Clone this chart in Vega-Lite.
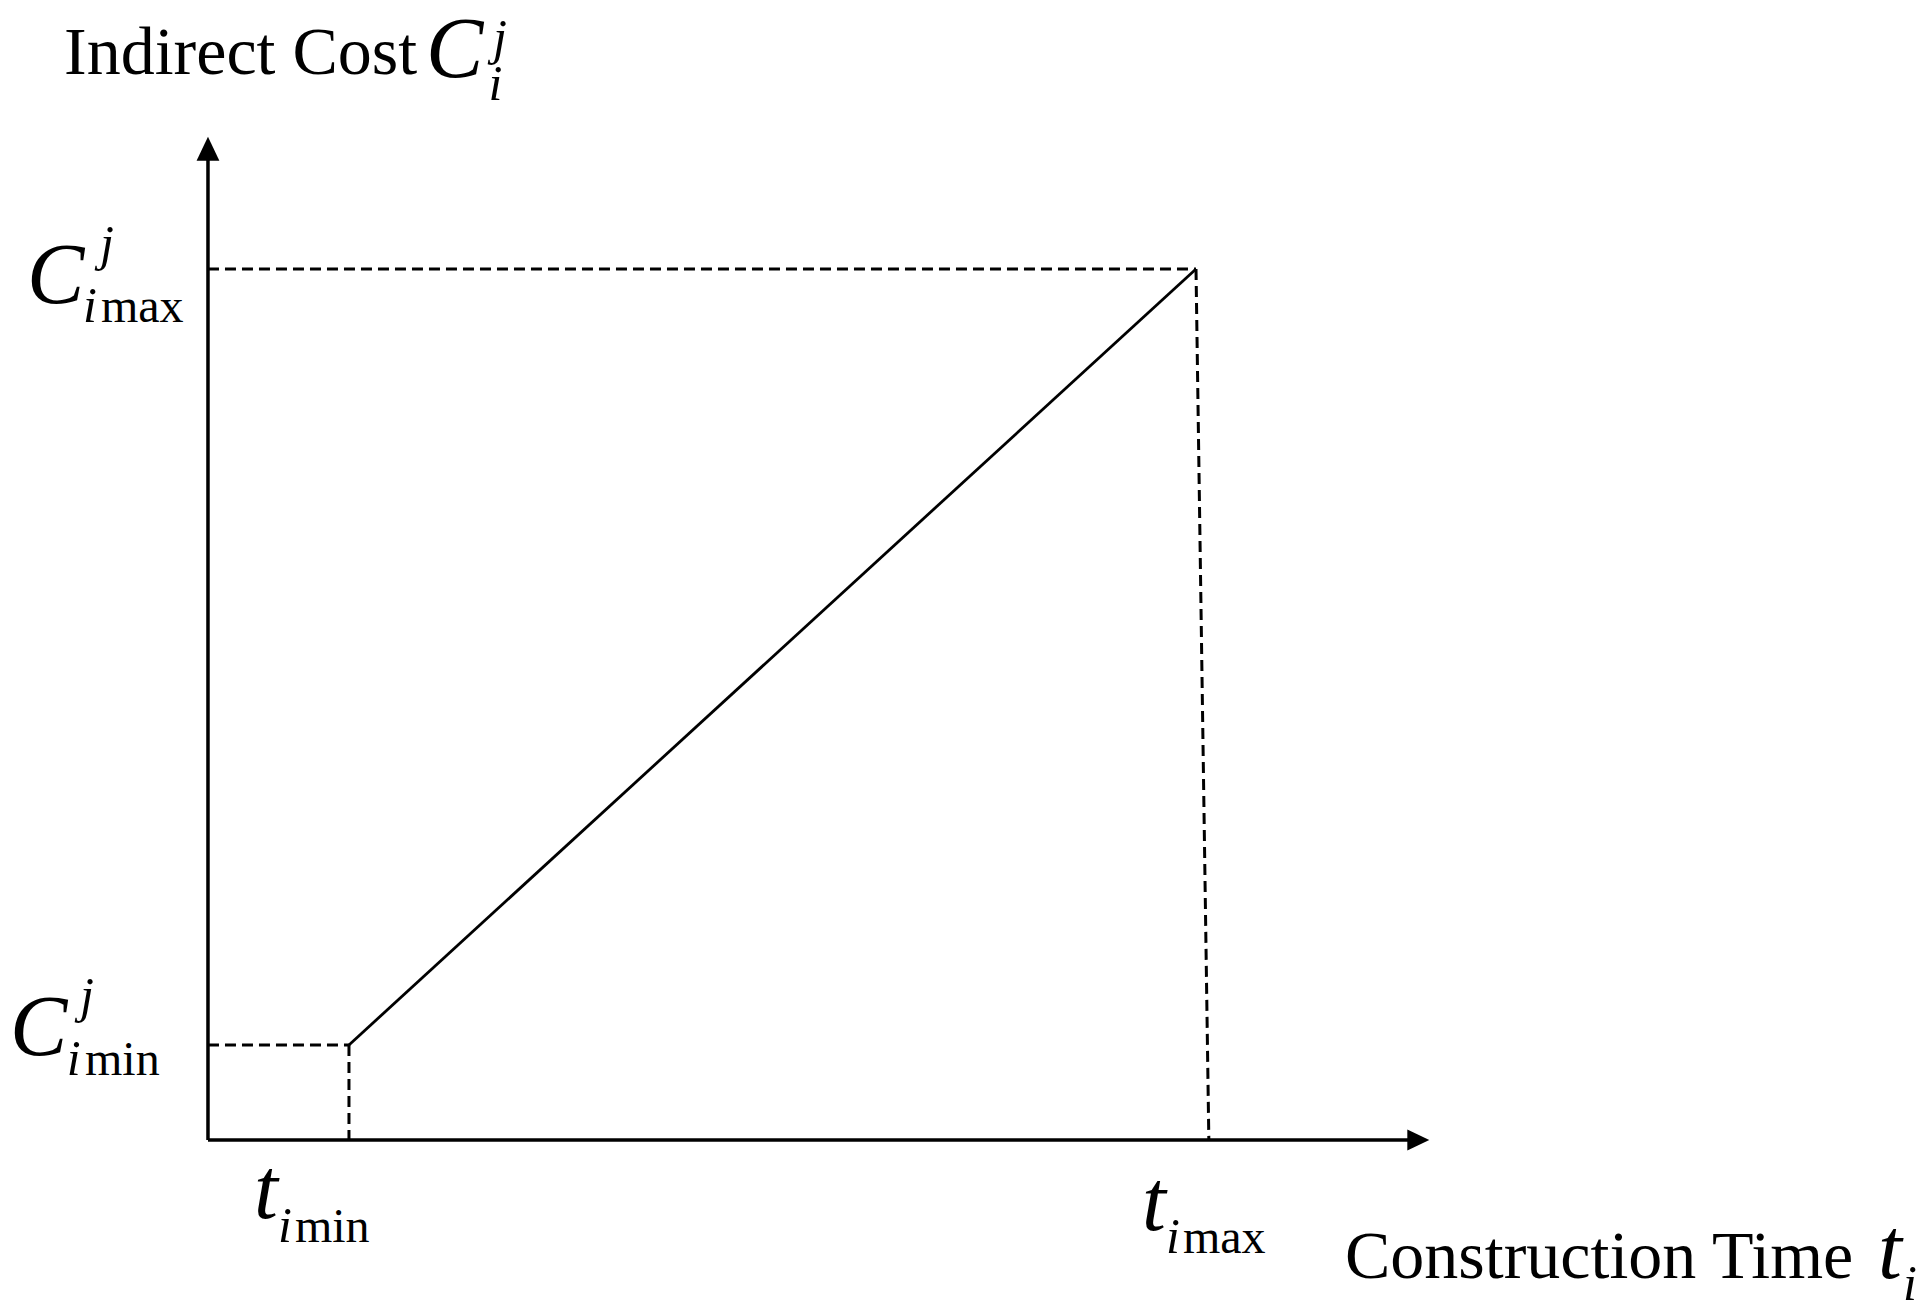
{
  "$schema": "https://vega.github.io/schema/vega-lite/v6.json",
  "width": 1931,
  "height": 1310,
  "autosize": {"type": "none"},
  "padding": 0,
  "background": "white",
  "config": {"view": {"stroke": null}},
  "datasets": {
    "axes": [
      {"seg": "y", "ord": 0, "t": 0, "c": 0},
      {"seg": "y", "ord": 1, "t": 0, "c": 11.3},
      {"seg": "x", "ord": 0, "t": 0, "c": 0},
      {"seg": "x", "ord": 1, "t": 12.2, "c": 0}
    ],
    "arrows": [
      {"dir": "up", "t": 0, "c": 11.38},
      {"dir": "right", "t": 12.25, "c": 0}
    ],
    "curve": [
      {"ord": 0, "t": 1.427, "c": 1.091},
      {"ord": 1, "t": 10, "c": 10}
    ],
    "guides": [
      {"seg": "cmax", "ord": 0, "t": 0, "c": 10},
      {"seg": "cmax", "ord": 1, "t": 10, "c": 10},
      {"seg": "tmax", "ord": 0, "t": 10, "c": 10},
      {"seg": "tmax", "ord": 1, "t": 10.13, "c": 0},
      {"seg": "cmin", "ord": 0, "t": 0, "c": 1.091},
      {"seg": "cmin", "ord": 1, "t": 1.427, "c": 1.091},
      {"seg": "tmin", "ord": 0, "t": 1.427, "c": 1.091},
      {"seg": "tmin", "ord": 1, "t": 1.427, "c": 0}
    ],
    "labels": [
      {"kind": "title", "text": "Indirect Cost", "t": -1.457, "c": 12.239},
      {"kind": "title", "text": "Construction Time", "t": 11.508, "c": -1.584},
      {"kind": "bigital", "text": "C", "t": 2.206, "c": 12.2},
      {"kind": "bigital", "text": "C", "t": -1.832, "c": 9.61},
      {"kind": "bigital", "text": "C", "t": -2.004, "c": 0.976},
      {"kind": "bigital", "text": "t", "t": 0.466, "c": -0.896},
      {"kind": "bigital", "text": "t", "t": 9.453, "c": -1.033},
      {"kind": "bigital", "text": "t", "t": 16.903, "c": -1.584},
      {"kind": "smallital", "text": "j", "t": 2.885, "c": 12.468},
      {"kind": "smallital", "text": "i", "t": 2.84, "c": 11.94},
      {"kind": "smallital", "text": "j", "t": -1.093, "c": 10.103},
      {"kind": "smallital", "text": "i", "t": -1.265, "c": 9.392},
      {"kind": "smallital", "text": "j", "t": -1.296, "c": 1.47},
      {"kind": "smallital", "text": "i", "t": -1.43, "c": 0.746},
      {"kind": "smallital", "text": "i", "t": 0.709, "c": -1.171},
      {"kind": "smallital", "text": "i", "t": 9.696, "c": -1.297},
      {"kind": "smallital", "text": "i", "t": 17.156, "c": -1.837},
      {"kind": "sub", "text": "max", "t": -1.083, "c": 9.392},
      {"kind": "sub", "text": "min", "t": -1.245, "c": 0.746},
      {"kind": "sub", "text": "min", "t": 0.88, "c": -1.171},
      {"kind": "sub", "text": "max", "t": 9.868, "c": -1.297}
    ]
  },
  "encoding": {
    "x": {"field": "t", "type": "quantitative", "scale": {"domain": [-2.105, 17.439], "nice": false, "zero": false}, "axis": null},
    "y": {"field": "c", "type": "quantitative", "scale": {"domain": [-1.952, 13.088], "nice": false, "zero": false}, "axis": null}
  },
  "layer": [
    {
      "data": {"name": "guides"},
      "mark": {"type": "line", "color": "black", "strokeWidth": 3, "strokeDash": [11, 6], "clip": false},
      "encoding": {"detail": {"field": "seg"}, "order": {"field": "ord", "type": "quantitative"}}
    },
    {
      "data": {"name": "axes"},
      "mark": {"type": "line", "color": "black", "strokeWidth": 3.5},
      "encoding": {"detail": {"field": "seg"}, "order": {"field": "ord", "type": "quantitative"}}
    },
    {
      "data": {"name": "curve"},
      "mark": {"type": "line", "color": "black", "strokeWidth": 2.8},
      "encoding": {"order": {"field": "ord", "type": "quantitative"}}
    },
    {
      "data": {"name": "arrows"},
      "transform": [{"filter": "datum.dir === 'up'"}],
      "mark": {"type": "point", "shape": "M0,-1L-0.95,1L0.95,1Z", "filled": true, "color": "black", "opacity": 1, "size": 576}
    },
    {
      "data": {"name": "arrows"},
      "transform": [{"filter": "datum.dir === 'right'"}],
      "mark": {"type": "point", "shape": "M1,0L-1,-0.95L-1,0.95Z", "filled": true, "color": "black", "opacity": 1, "size": 484}
    },
    {
      "data": {"name": "labels"},
      "transform": [{"filter": "datum.kind === 'title'"}],
      "mark": {"type": "text", "font": "Liberation Serif", "fontSize": 68, "align": "left", "baseline": "alphabetic", "color": "black"},
      "encoding": {"text": {"field": "text"}}
    },
    {
      "data": {"name": "labels"},
      "transform": [{"filter": "datum.kind === 'bigital'"}],
      "mark": {"type": "text", "font": "Liberation Serif", "fontStyle": "italic", "fontSize": 86, "align": "left", "baseline": "alphabetic", "color": "black"},
      "encoding": {"text": {"field": "text"}}
    },
    {
      "data": {"name": "labels"},
      "transform": [{"filter": "datum.kind === 'smallital'"}],
      "mark": {"type": "text", "font": "Liberation Serif", "fontStyle": "italic", "fontSize": 50, "align": "left", "baseline": "alphabetic", "color": "black"},
      "encoding": {"text": {"field": "text"}}
    },
    {
      "data": {"name": "labels"},
      "transform": [{"filter": "datum.kind === 'sub'"}],
      "mark": {"type": "text", "font": "Liberation Serif", "fontSize": 48, "align": "left", "baseline": "alphabetic", "color": "black"},
      "encoding": {"text": {"field": "text"}}
    }
  ]
}
